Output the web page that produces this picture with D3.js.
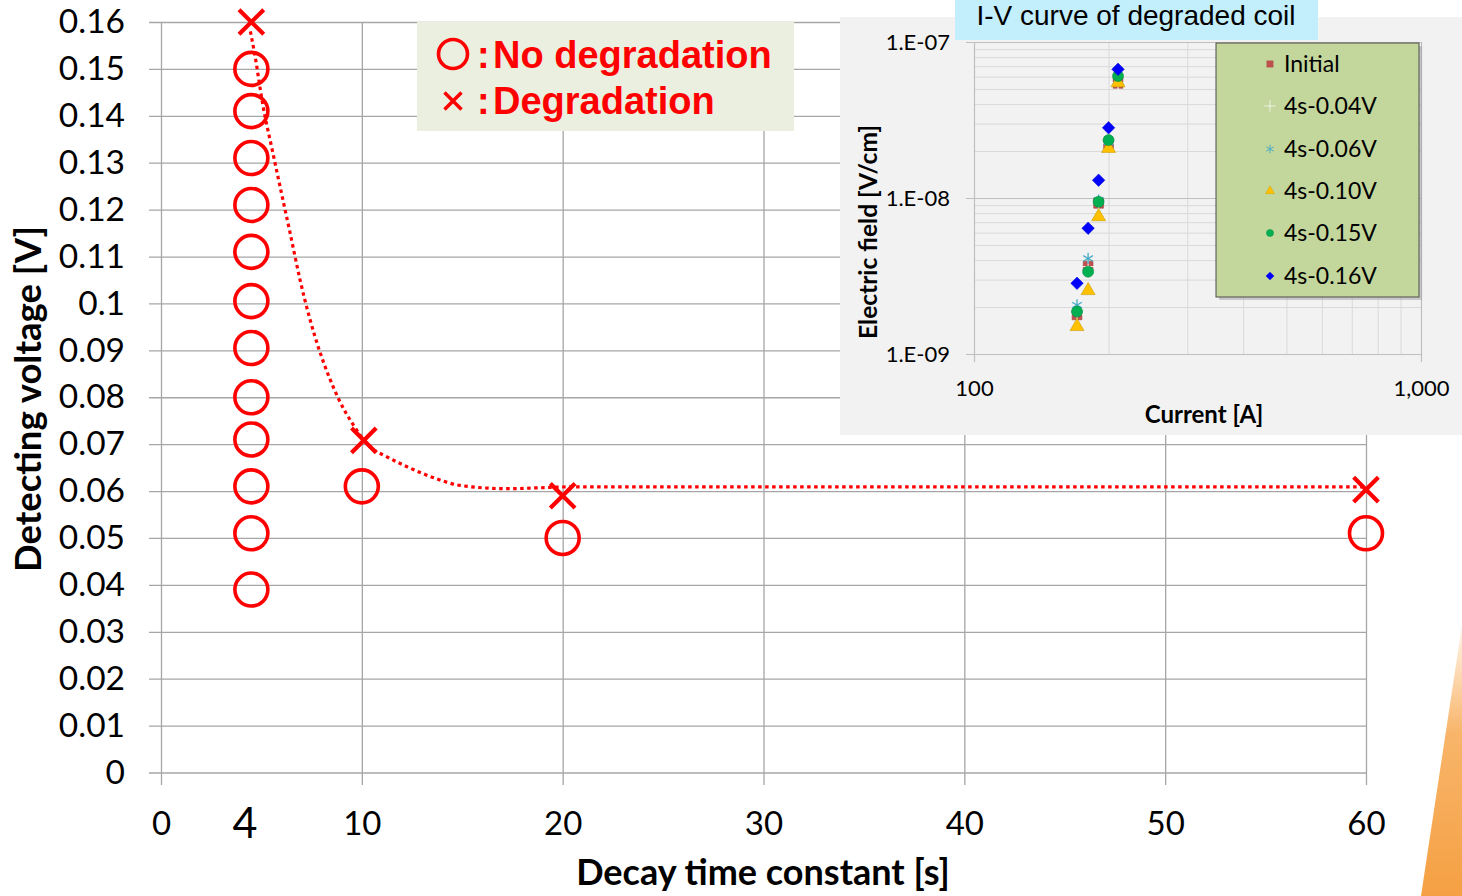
<!DOCTYPE html>
<html>
<head>
<meta charset="utf-8">
<script src="https://cdn.jsdelivr.net/npm/d3@7"></script>
<style>
  html, body { margin: 0; padding: 0; background: #fff; }
  svg { display: block; }
</style>
</head>
<body>
<svg id="chart" width="1462" height="896"></svg>
<script>
// ---- main chart data ----
const xTicks = [0, 10, 20, 30, 40, 50, 60];
const yTicks = [0, 0.01, 0.02, 0.03, 0.04, 0.05, 0.06, 0.07, 0.08, 0.09, 0.1, 0.11, 0.12, 0.13, 0.14, 0.15, 0.16];

// no degradation (circles)
const noDegTime = [4.5, 4.5, 4.5, 4.5, 4.5, 4.5, 4.5, 4.5, 4.5, 4.5, 4.5, 4.5, 10, 20, 60];
const noDegVolt = [0.150, 0.141, 0.131, 0.121, 0.111, 0.1005, 0.0905, 0.080, 0.071, 0.061, 0.051, 0.039, 0.061, 0.050, 0.051];

// degradation (crosses)
const degTime = [4.5, 10.1, 20, 60];
const degVolt = [0.160, 0.0708, 0.059, 0.0603];

// dotted trend line
const trendTime = [4.45, 4.68, 5.08, 5.53, 6.03, 6.42, 6.92, 8.86, 9.56, 10.4, 11.25, 12.25, 13.54, 14.89, 17.23, 18.87, 20.5, 23.8, 60];
const trendVolt = [0.158, 0.1528, 0.1421, 0.1329, 0.1229, 0.1152, 0.1051, 0.0795, 0.0742, 0.0695, 0.0673, 0.0652, 0.0629, 0.0612, 0.0605, 0.0607, 0.0609, 0.0609, 0.0609];

// ---- inset (I-V curve) data ----
const current = [170, 180, 190, 200, 210];
const eInitial = [1.78e-9, 3.66e-9, 9.24e-9, 2.22e-8, 5.43e-8];
const e004 = [1.80e-9, 3.63e-9, 9.3e-9, 2.25e-8, 5.5e-8];
const e006 = [2.06e-9, 4.10e-9, 9.7e-9, 2.28e-8, 5.7e-8];
const e010 = [1.50e-9, 2.55e-9, 7.59e-9, 2.08e-8, 5.48e-8];
const e015 = [1.87e-9, 3.37e-9, 9.46e-9, 2.35e-8, 6.05e-8];
const e016 = [2.84e-9, 6.40e-9, 1.30e-8, 2.82e-8, 6.68e-8];
const insetSeries = ['Initial', '4s-0.04V', '4s-0.06V', '4s-0.10V', '4s-0.15V', '4s-0.16V'];
const insetXTicks = [100, 1000];
const insetXLabels = ['100', '1,000'];
const insetYTicks = [1e-9, 1e-8, 1e-7];
const insetYLabels = ['1.E-09', '1.E-08', '1.E-07'];

const RED = '#ff0000';
const GRID = '#a6a6a6';

const svg = d3.select('#chart');

// orange decoration bottom right
const defs = svg.append('defs');
const grad = defs.append('linearGradient').attr('id', 'orng')
  .attr('x1', 0).attr('y1', 0).attr('x2', 0).attr('y2', 1);
grad.append('stop').attr('offset', '0%').attr('stop-color', '#fff6ec');
grad.append('stop').attr('offset', '40%').attr('stop-color', '#f8b56a');
grad.append('stop').attr('offset', '100%').attr('stop-color', '#f5a043');
svg.append('path')
  .attr('d', 'M1462,625 L1462,896 L1421,896 Z')
  .attr('fill', 'url(#orng)');

const x = d3.scaleLinear().domain([0, 60]).range([161, 1366]);
const y = d3.scaleLinear().domain([0, 0.16]).range([772.5, 22]);

// horizontal grid + ticks
svg.append('g')
  .attr('transform', 'translate(149,0)')
  .call(d3.axisLeft(y).tickValues(yTicks).tickSize(-(1366 - 149)).tickFormat(''))
  .call(g => g.select('.domain').remove())
  .call(g => g.selectAll('line').attr('stroke', GRID).attr('stroke-width', 1.3));

// vertical grid + ticks
svg.append('g')
  .attr('transform', 'translate(0,785)')
  .call(d3.axisBottom(x).tickValues(xTicks).tickSize(-(785 - 22)).tickFormat(''))
  .call(g => g.select('.domain').remove())
  .call(g => g.selectAll('line').attr('stroke', GRID).attr('stroke-width', 1.3));

// y tick labels
svg.append('g')
  .attr('transform', 'translate(161,0)')
  .call(d3.axisLeft(y).tickValues(yTicks).tickSize(0).tickPadding(36).tickFormat(d => String(+d.toFixed(2))))
  .call(g => g.select('.domain').remove())
  .call(g => g.selectAll('text')
    .attr('font-family', 'Lato, sans-serif').attr('font-size', 33.5).attr('fill', '#000'));

// x tick labels
svg.append('g')
  .attr('transform', 'translate(0,772.5)')
  .call(d3.axisBottom(x).tickValues(xTicks).tickSize(0).tickPadding(0))
  .call(g => g.select('.domain').remove())
  .call(g => g.selectAll('text')
    .attr('y', 51).attr('dy', '0.35em')
    .attr('font-family', 'Lato, sans-serif').attr('font-size', 33).attr('fill', '#000'));

// the hand placed "4"
svg.append('text')
  .attr('x', 245).attr('y', 823).attr('dy', '0.35em')
  .attr('text-anchor', 'middle')
  .attr('font-family', 'Lato, sans-serif').attr('font-size', 43)
  .text('4');

// axis titles
svg.append('text')
  .attr('transform', 'translate(28,399) rotate(-90)')
  .attr('text-anchor', 'middle').attr('dy', '0.35em')
  .attr('font-family', 'Lato, sans-serif').attr('font-weight', 'bold').attr('font-size', 36.5)
  .text('Detecting voltage [V]');
svg.append('text')
  .attr('x', 763).attr('y', 872).attr('dy', '0.35em')
  .attr('text-anchor', 'middle')
  .attr('font-family', 'Lato, sans-serif').attr('font-weight', 'bold').attr('font-size', 36)
  .text('Decay time constant [s]');

// trend line
const trend = trendTime.map((t, i) => [t, trendVolt[i]]);
svg.append('path')
  .datum(trend)
  .attr('d', d3.line().x(d => x(d[0])).y(d => y(d[1])).curve(d3.curveMonotoneX))
  .attr('fill', 'none').attr('stroke', RED).attr('stroke-width', 3.2)
  .attr('stroke-dasharray', '3.5,3.5');

// circles
svg.append('g').selectAll('circle')
  .data(noDegTime.map((t, i) => [t, noDegVolt[i]]))
  .enter().append('circle')
  .attr('cx', d => x(d[0])).attr('cy', d => y(d[1])).attr('r', 16.5)
  .attr('fill', 'none').attr('stroke', RED).attr('stroke-width', 3.6);

// crosses
const cross = d3.symbol().type(d3.symbolTimes).size(400);
svg.append('g').selectAll('path')
  .data(degTime.map((t, i) => [t, degVolt[i]]))
  .enter().append('path')
  .attr('transform', d => `translate(${x(d[0])},${y(d[1])})`)
  .attr('d', cross)
  .attr('fill', 'none').attr('stroke', RED).attr('stroke-width', 4.2);

// main legend
const lg = svg.append('g');
lg.append('rect').attr('x', 417).attr('y', 22).attr('width', 377).attr('height', 109).attr('fill', '#ebefdf');
lg.append('circle').attr('cx', 453).attr('cy', 54).attr('r', 14.5)
  .attr('fill', 'none').attr('stroke', RED).attr('stroke-width', 3.6);
lg.append('path').attr('transform', 'translate(453,101)')
  .attr('d', d3.symbol().type(d3.symbolTimes).size(190)())
  .attr('fill', 'none').attr('stroke', RED).attr('stroke-width', 3.5);
[[68, ':', 'No degradation'], [114, ':', 'Degradation']].forEach(r => {
  lg.append('text').attr('x', 477).attr('y', r[0])
    .attr('font-family', '"Liberation Sans", Arial, sans-serif').attr('font-weight', 'bold')
    .attr('font-size', 38).attr('fill', RED).text(r[1]);
  lg.append('text').attr('x', 493).attr('y', r[0])
    .attr('font-family', '"Liberation Sans", Arial, sans-serif').attr('font-weight', 'bold')
    .attr('font-size', 38).attr('fill', RED).text(r[2]);
});

// ---- inset ----
const ins = svg.append('g');
ins.append('rect').attr('x', 840).attr('y', 17).attr('width', 622).attr('height', 418).attr('fill', '#f2f2f2');
ins.append('rect').attr('x', 955).attr('y', 0).attr('width', 363).attr('height', 40).attr('fill', '#c3eefc');
ins.append('text').attr('x', 1136).attr('y', 15).attr('dy', '0.35em').attr('text-anchor', 'middle')
  .attr('font-family', '"Liberation Sans", Arial, sans-serif').attr('font-size', 28).attr('fill', '#000')
  .text('I-V curve of degraded coil');

const ix = d3.scaleLog().domain([100, 1000]).range([974, 1421]);
const iy = d3.scaleLog().domain([1e-9, 1e-7]).range([354, 42]);

// inset grid (minor, then major)
const minorY = iy.ticks().filter(v => !insetYTicks.some(t => Math.abs(t - v) / t < 1e-6));
const minorX = ix.ticks().filter(v => !insetXTicks.includes(v));
ins.append('g').attr('transform', 'translate(1421,0)')
  .call(d3.axisLeft(iy).tickValues(minorY).tickSize(1421 - 974).tickFormat(''))
  .call(g => g.select('.domain').remove())
  .call(g => g.selectAll('line').attr('stroke', '#d9d9d9').attr('stroke-width', 1));
ins.append('g').attr('transform', 'translate(0,354)')
  .call(d3.axisBottom(ix).tickValues(minorX).tickSize(-(354 - 42)).tickFormat(''))
  .call(g => g.select('.domain').remove())
  .call(g => g.selectAll('line').attr('stroke', '#d9d9d9').attr('stroke-width', 1));
ins.append('g').attr('transform', 'translate(966,0)')
  .call(d3.axisLeft(iy).tickValues(insetYTicks).tickSize(-(1421 - 966)).tickFormat(''))
  .call(g => g.select('.domain').remove())
  .call(g => g.selectAll('line').attr('stroke', '#bfbfbf').attr('stroke-width', 1.2));
ins.append('g').attr('transform', 'translate(0,362)')
  .call(d3.axisBottom(ix).tickValues(insetXTicks).tickSize(-(362 - 42)).tickFormat(''))
  .call(g => g.select('.domain').remove())
  .call(g => g.selectAll('line').attr('stroke', '#bfbfbf').attr('stroke-width', 1.2));

// inset tick labels
ins.append('g').attr('transform', 'translate(974,0)')
  .call(d3.axisLeft(iy).tickValues(insetYTicks).tickSize(0).tickPadding(24).tickFormat((d, i) => insetYLabels[i]))
  .call(g => g.select('.domain').remove())
  .call(g => g.selectAll('text').attr('font-family', 'Lato, sans-serif').attr('font-size', 22).attr('fill', '#000'));
ins.append('g').attr('transform', 'translate(0,354)')
  .call(d3.axisBottom(ix).tickValues(insetXTicks).tickSize(0).tickFormat((d, i) => insetXLabels[i]))
  .call(g => g.select('.domain').remove())
  .call(g => g.selectAll('text').attr('y', 34).attr('dy', '0.35em')
    .attr('font-family', 'Lato, sans-serif').attr('font-size', 22).attr('fill', '#000'));

ins.append('text')
  .attr('transform', 'translate(868,232) rotate(-90)')
  .attr('text-anchor', 'middle').attr('dy', '0.35em')
  .attr('font-family', 'Lato, sans-serif').attr('font-weight', 'bold').attr('font-size', 24.5)
  .text('Electric field [V/cm]');
ins.append('text')
  .attr('x', 1204).attr('y', 415).attr('dy', '0.35em').attr('text-anchor', 'middle')
  .attr('font-family', 'Lato, sans-serif').attr('font-weight', 'bold').attr('font-size', 24)
  .text('Current [A]');

// marker styles per series
const markers = [
  { vals: eInitial, d: d3.symbol().type(d3.symbolSquare).size(95)(), fill: '#c0504d', stroke: '#a04040', sw: 0.6, lsz: 0.65 },
  { vals: e004, d: d3.symbol().type(d3.symbolPlus).size(75)(), fill: 'none', stroke: '#ffffff', sw: 1, lsz: 0.75 },
  { vals: e006, d: d3.symbol().type(d3.symbolAsterisk).size(90)(), fill: 'none', stroke: '#4bacc6', sw: 1.3, lsz: 0.75 },
  { vals: e010, d: d3.symbol().type(d3.symbolTriangle).size(85)(), fill: '#ffc000', stroke: '#c8a000', sw: 0.6, lsz: 0.65 },
  { vals: e015, d: d3.symbol().type(d3.symbolCircle).size(95)(), fill: '#00b050', stroke: '#008c40', sw: 0.6, lsz: 0.65 },
  { vals: e016, d: d3.symbol().type(d3.symbolDiamond2).size(100)(), fill: '#0000ff', stroke: '#0000cc', sw: 0.5, lsz: 0.65 }
];

markers.forEach(m => {
  ins.append('g').selectAll('path')
    .data(current.map((c, i) => [c, m.vals[i]]))
    .enter().append('path')
    .attr('transform', d => `translate(${ix(d[0])},${iy(d[1])})`)
    .attr('d', m.d)
    .attr('fill', m.fill).attr('stroke', m.stroke).attr('stroke-width', m.sw);
});

// inset legend
const il = ins.append('g');
il.append('rect').attr('x', 1219).attr('y', 46).attr('width', 203).attr('height', 254).attr('fill', '#a0a0a0').attr('opacity', 0.5);
il.append('rect').attr('x', 1216).attr('y', 43).attr('width', 203).attr('height', 254)
  .attr('fill', '#c3d69b').attr('stroke', '#4d4d4d').attr('stroke-width', 1);
const rowY = [64, 106, 149, 191, 233, 276];
insetSeries.forEach((name, i) => {
  const m = markers[i];
  il.append('path')
    .attr('transform', `translate(1270,${rowY[i]}) scale(${m.lsz})`)
    .attr('d', m.d)
    .attr('fill', m.fill).attr('stroke', m.stroke).attr('stroke-width', m.sw);
  il.append('text').attr('x', 1284).attr('y', rowY[i]).attr('dy', '0.35em')
    .attr('font-family', 'Lato, sans-serif').attr('font-size', 23).attr('fill', '#000')
    .text(name);
});
</script>
</body>
</html>
